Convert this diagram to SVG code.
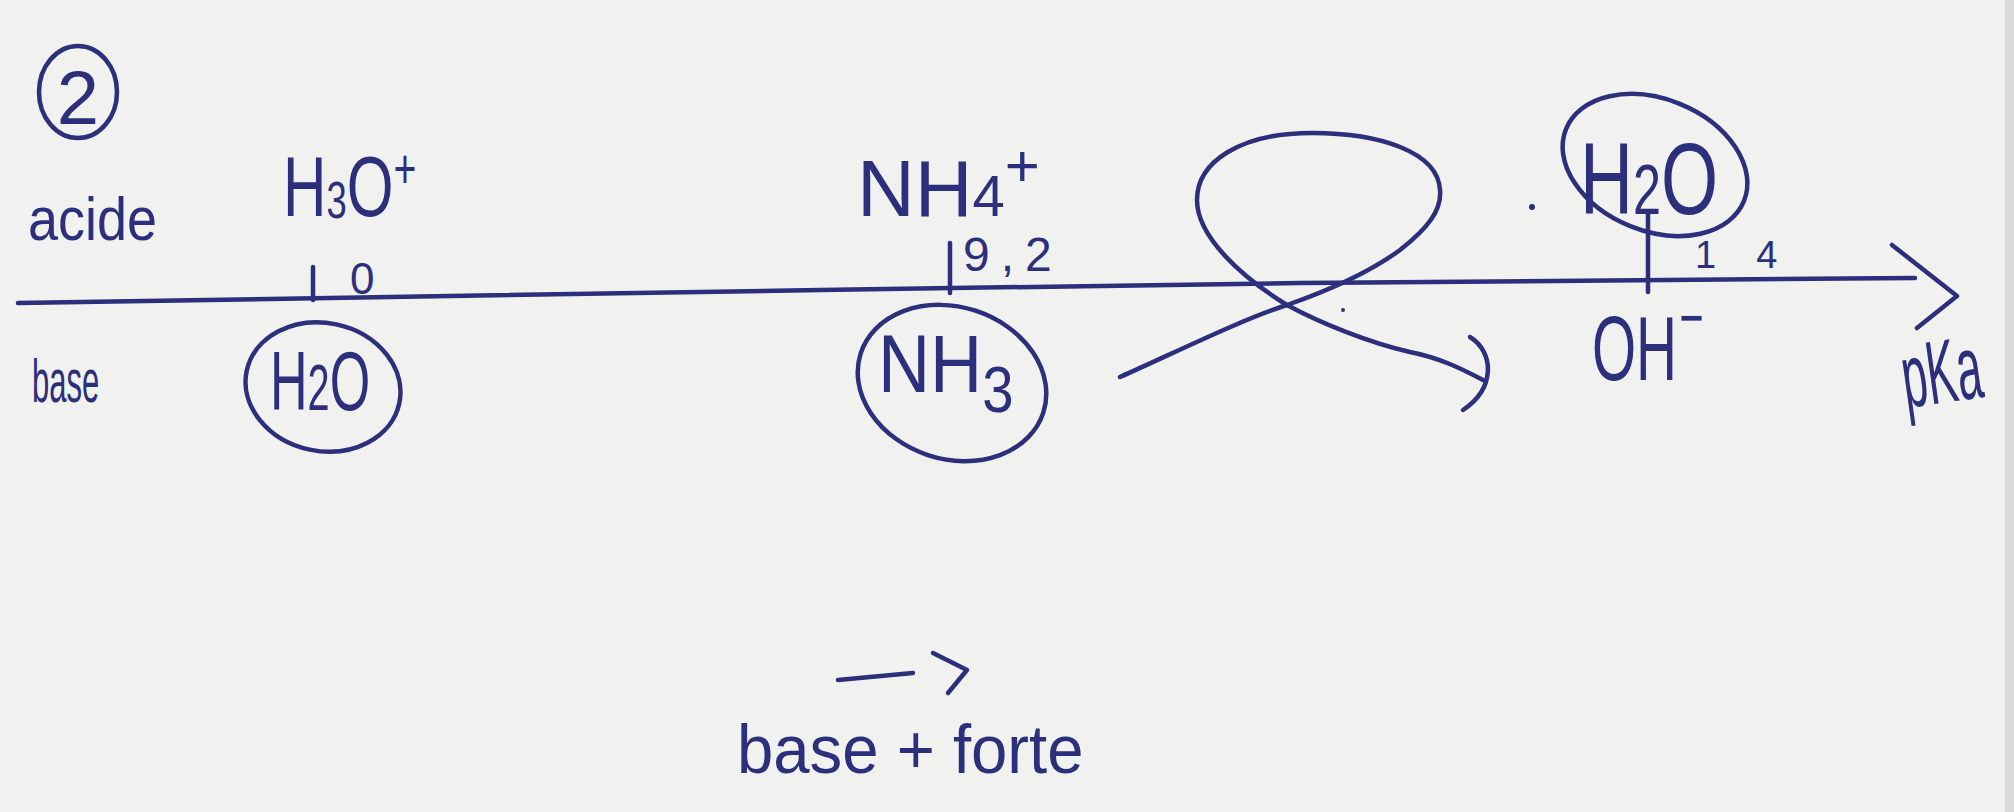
<svg xmlns="http://www.w3.org/2000/svg" width="2014" height="812" viewBox="0 0 2014 812">
<style>
.ink{fill:none;stroke:#2b2f7c;stroke-width:4.5;stroke-linecap:round;stroke-linejoin:round}
.t{fill:#2b2f7c;font-family:"Liberation Sans","DejaVu Sans",sans-serif}
</style>
<rect width="2014" height="812" fill="#f1f1ef"/>
<rect x="2005" y="0" width="9" height="812" fill="#d9d9d7"/>

<g id="marker-2">
<ellipse class="ink" cx="78" cy="92" rx="39" ry="46"/>
<text class="t" x="78" y="124" font-size="76" text-anchor="middle">2</text>
</g>
<g id="label-acide"><text class="t" font-size="62" transform="translate(28,240) scale(0.87,1)">acide</text></g>
<g id="label-base"><text class="t" font-size="62" transform="translate(32,402) scale(0.5,1)">base</text></g>

<g id="node-h3o">
<text class="t" font-size="86" transform="translate(283,216) scale(0.7,1)">H<tspan font-size="52" dy="2">3</tspan><tspan dy="-2">O</tspan><tspan font-size="56" dy="-28">+</tspan></text>
</g>
<g id="node-h2o-left">
<ellipse class="ink" cx="323" cy="387" rx="78" ry="64" transform="rotate(12 323 387)"/>
<text class="t" font-size="84" transform="translate(270,410) scale(0.62,1)">H<tspan font-size="64">2</tspan>O</text>
</g>
<g id="node-nh4">
<text class="t" x="857" y="216" font-size="80">NH<tspan font-size="58">4</tspan><tspan font-size="60" dy="-30">+</tspan></text>
</g>
<g id="node-nh3">
<ellipse class="ink" cx="952" cy="383" rx="96" ry="76" transform="rotate(18 952 383)"/>
<text class="t" font-size="82" transform="translate(878,392) scale(0.88,1)">NH<tspan font-size="64" dy="20">3</tspan></text>
</g>
<g id="node-h2o-right">
<ellipse class="ink" cx="1655" cy="165" rx="96" ry="66" transform="rotate(22 1655 165)"/>
<text class="t" font-size="102" transform="translate(1580,214) scale(0.72,1)">H<tspan font-size="70">2</tspan>O</text>
</g>
<g id="node-oh">
<text class="t" font-size="90" transform="translate(1592,380) scale(0.63,1)">OH<tspan font-size="66" dx="4" dy="-40">−</tspan></text>
</g>
<g id="label-values">
<text class="t" x="350" y="294" font-size="44">0</text>
<text class="t" x="963" y="271" font-size="48" letter-spacing="11">9,2</text>
<text class="t" x="1695" y="268" font-size="38" letter-spacing="40">14</text>
</g>
<g id="label-pka"><text class="t" font-size="90" transform="translate(1906,408) rotate(-8) scale(0.5,1)">pKa</text></g>
<g id="label-bottom"><text class="t" font-size="68" transform="translate(737,773) scale(0.96,1)">base + forte</text></g>

<g id="connectors">
<path class="ink" d="M18,303 L450,296 L820,290 L1300,283 L1915,278"/>
<path class="ink" d="M1892,245 L1957,296 L1917,328"/>
<path class="ink" d="M313,267 L313,300"/>
<path class="ink" d="M950,243 L950,293"/>
<path class="ink" d="M1648,213 L1648,292"/>
<path class="ink" d="M1120,377 C1170,355 1240,320 1287,305 C1330,290 1370,272 1400,250 C1428,228 1442,210 1440,190 C1438,152 1380,133 1312,133 C1240,133 1197,162 1197,200 C1197,236 1240,276 1287,305 C1320,323 1370,343 1410,352 C1440,358 1460,368 1483,380"/>
<path class="ink" d="M1470,337 C1494,352 1496,388 1463,410"/>
<path class="ink" d="M838,680 L913,673"/>
<path class="ink" d="M933,653 L967,670 L948,693"/>
<circle cx="1532" cy="207" r="3" fill="#2b2f7c"/>
<circle cx="1343" cy="310" r="2" fill="#2b2f7c"/>
</g>
</svg>
